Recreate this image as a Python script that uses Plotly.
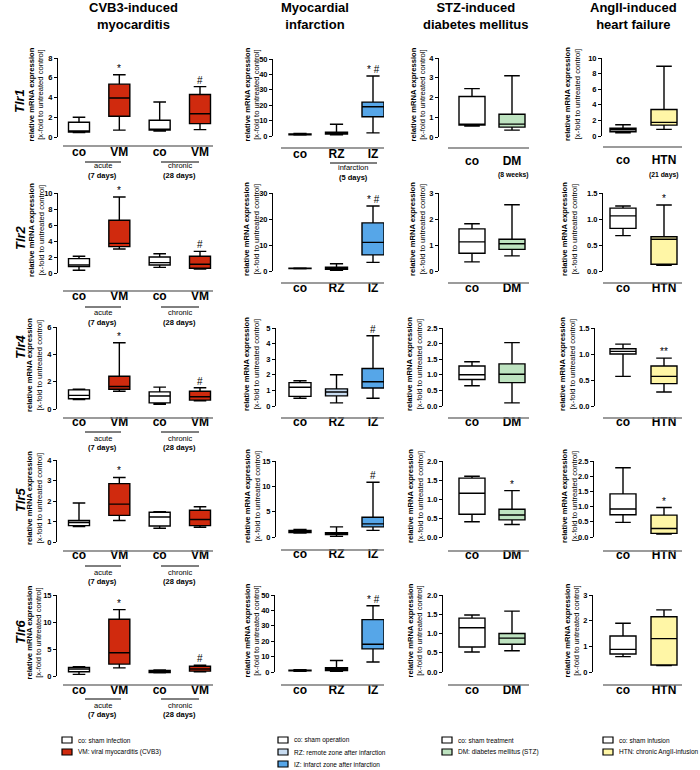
import plotly.graph_objects as go

W, H = 700, 770
FONT = "Liberation Sans, Arial, Helvetica, sans-serif"


def px(x):
    return x / W


def py(y):
    return 1 - y / H


# ---------------- data ----------------
genes = ["Tlr1", "Tlr2", "Tlr4", "Tlr5", "Tlr6"]
model_titles = ["CVB3-induced<br>myocarditis", "Myocardial<br>infarction",
                "STZ-induced<br>diabetes mellitus", "AngII-induced<br>heart failure"]

cvb3_cats = ["co", "VM", "co", "VM"]
mi_cats = ["co", "RZ", "IZ"]
stz_cats = ["co", "DM"]
ang_cats = ["co", "HTN"]

# box statistics per group: [lower whisker, Q1, median, Q3, upper whisker]
cvb3_tlr1 = [[0.45, 0.5, 0.6, 1.5, 2.0], [0.7, 2.1, 3.95, 5.35, 6.3], [0.6, 0.7, 0.8, 1.7, 3.55], [0.75, 1.35, 2.35, 4.3, 5.1]]
cvb3_tlr2 = [[0.35, 0.8, 1.0, 1.8, 2.1], [3.0, 3.3, 3.7, 6.6, 9.5], [0.7, 1.0, 1.3, 2.0, 2.4], [0.5, 0.6, 1.1, 2.1, 2.7]]
cvb3_tlr4 = [[0.7, 0.75, 1.0, 1.4, 1.45], [1.3, 1.45, 1.65, 2.4, 4.85], [0.35, 0.45, 0.95, 1.25, 1.6], [0.6, 0.65, 0.9, 1.3, 1.55]]
cvb3_tlr5 = [[0.75, 0.8, 0.95, 1.05, 1.9], [1.05, 1.3, 1.85, 2.85, 3.15], [0.67, 0.78, 1.22, 1.45, 1.48], [0.72, 0.8, 1.1, 1.55, 1.72]]
cvb3_tlr6 = [[0.3, 0.8, 1.3, 1.6, 1.7], [1.5, 2.2, 4.3, 10.5, 12.3], [0.6, 0.65, 0.9, 1.05, 1.1], [0.8, 0.9, 1.3, 1.8, 2.0]]

mi_tlr1 = [[0.6, 0.8, 1.0, 1.3, 1.6], [0.8, 1.3, 1.8, 2.5, 7.6], [2.0, 12.5, 19.0, 22.0, 39.0]]
mi_tlr2 = [[0.8, 0.9, 1.0, 1.1, 1.2], [0.3, 0.7, 1.1, 1.5, 2.8], [3.3, 6.2, 11.0, 18.5, 25.0]]
mi_tlr4 = [[0.5, 0.62, 1.2, 1.5, 1.62], [0.2, 0.65, 0.9, 1.1, 2.0], [0.5, 1.15, 1.55, 2.4, 4.5]]
mi_tlr5 = [[0.8, 0.9, 1.0, 1.3, 1.5], [0.1, 0.5, 0.7, 0.85, 2.0], [1.3, 2.0, 2.6, 3.9, 10.8]]
mi_tlr6 = [[0.5, 0.8, 1.0, 1.2, 1.5], [0.5, 1.0, 1.8, 2.8, 7.5], [6.5, 15.0, 18.0, 34.0, 43.0]]

stz_tlr1 = [[0.55, 0.6, 0.65, 2.05, 2.45], [0.35, 0.5, 0.65, 1.15, 3.1]]
stz_tlr2 = [[0.35, 0.68, 1.12, 1.62, 1.82], [0.58, 0.83, 1.05, 1.22, 2.55]]
stz_tlr4 = [[0.65, 0.85, 1.0, 1.28, 1.42], [0.1, 0.75, 1.02, 1.35, 2.03]]
stz_tlr5 = [[0.4, 0.6, 1.15, 1.55, 1.6], [0.33, 0.45, 0.58, 0.73, 1.22]]
stz_tlr6 = [[0.52, 0.65, 1.15, 1.4, 1.48], [0.55, 0.72, 0.88, 1.0, 1.58]]

ang_tlr1 = [[0.4, 0.55, 0.8, 1.0, 1.45], [0.85, 1.4, 1.75, 3.4, 8.95]]
ang_tlr2 = [[0.68, 0.82, 1.06, 1.21, 1.25], [0.11, 0.13, 0.61, 0.66, 1.27]]
ang_tlr4 = [[0.57, 1.0, 1.05, 1.1, 1.19], [0.27, 0.43, 0.57, 0.77, 0.92]]
ang_tlr5 = [[0.48, 0.73, 0.92, 1.42, 2.28], [0.1, 0.12, 0.28, 0.72, 0.97]]
ang_tlr6 = [[0.6, 0.7, 0.88, 1.4, 1.9], [0.25, 0.27, 1.3, 2.15, 2.42]]

# significance marks above each group
cvb3_sig = [["", "*", "", "#"], ["", "*", "", "#"], ["", "*", "", "#"], ["", "*", "", ""], ["", "*", "", "#"]]
mi_sig = [["", "", "* #"], ["", "", "* #"], ["", "", "#"], ["", "", "#"], ["", "", "* #"]]
stz_sig = [["", ""], ["", ""], ["", ""], ["", "*"], ["", ""]]
ang_sig = [["", ""], ["", "*"], ["", "**"], ["", "*"], ["", ""]]

# y-axis maxima and tick steps (rows = genes)
cvb3_ymax = [8, 10, 6, 4, 15]
cvb3_dtick = [2, 2, 2, 1, 5]
mi_ymax = [50, 30, 5, 15, 50]
mi_dtick = [10, 10, 1, 5, 10]
stz_ymax = [4, 3, 2.5, 2.0, 2.0]
stz_dtick = [1, 1, 0.5, 0.5, 0.5]
ang_ymax = [10, 1.5, 1.5, 2.5, 3]
ang_dtick = [2, 0.5, 0.5, 0.5, 1]

legend_cvb3 = ["co: sham infection", "VM: viral myocarditis (CVB3)"]
legend_mi = ["co: sham operation", "RZ: remote zone after infarction", "IZ: infarct zone after infarction"]
legend_stz = ["co: sham treatment", "DM: diabetes mellitus (STZ)"]
legend_ang = ["co: sham infusion", "HTN: chronic AngII-infusion"]

# ---------------- styling / layout ----------------
WHITE = "#FFFFFF"
RED = "#D02A0E"
LBLUE = "#C8DCF1"
BLUE = "#56A6E8"
GREEN = "#BEE3C0"
YELLOW = "#FFF6A6"

STATS = [[cvb3_tlr1, cvb3_tlr2, cvb3_tlr4, cvb3_tlr5, cvb3_tlr6],
         [mi_tlr1, mi_tlr2, mi_tlr4, mi_tlr5, mi_tlr6],
         [stz_tlr1, stz_tlr2, stz_tlr4, stz_tlr5, stz_tlr6],
         [ang_tlr1, ang_tlr2, ang_tlr4, ang_tlr5, ang_tlr6]]
SIGS = [cvb3_sig, mi_sig, stz_sig, ang_sig]
CATS = [cvb3_cats, mi_cats, stz_cats, ang_cats]
YMAX = [cvb3_ymax, mi_ymax, stz_ymax, ang_ymax]
DTICK = [cvb3_dtick, mi_dtick, stz_dtick, ang_dtick]
COLORS = [[WHITE, RED, WHITE, RED], [WHITE, LBLUE, BLUE], [WHITE, GREEN], [WHITE, YELLOW]]
LEGENDS = [legend_cvb3, legend_mi, legend_stz, legend_ang]

# pixel geometry
CENTERS = [[79, 120, 160, 200], [300, 336.5, 373], [472, 512], [623, 664]]
XSPAN = [(63, 213), (281, 384), (448, 529), (603, 682)]
BOXPX = [21, 22, 26, 26]
# per column, per row: (y-axis x px, top tick y px, zero y px, baseline y px)
GEOM = [
    [(57, 58, 137, 146), (57, 193, 273, 291), (56, 327, 409, 418), (56, 460, 542, 551), (56, 595, 676, 685)],
    [(272, 59, 136, 148), (272, 193, 271, 283), (275, 328, 406, 418), (275, 461, 537, 550), (274, 595, 672, 685)],
    [(438, 58, 137, 148), (438, 193, 271, 283), (442, 328, 406, 418), (442, 461, 537, 551), (442, 595, 672, 685)],
    [(601, 58, 136, 147), (602, 193, 271, 283), (594, 328, 406, 418), (593, 461, 537, 551), (592, 595, 672, 685)],
]
YTITLE_X = [[36, 36, 34, 34, 34], [252, 252, 252, 252, 252], [418, 418, 415, 415, 415], [572, 570, 568, 569, 572]]
LABEL_STANDOFF = [[-3, -4, -5, -5, -4], [-3, -4, -5, -5, -4], [4, -4, -5, -5, -4], [4, -4, -5, -5, -4]]

fig = go.Figure()
annotations = []
shapes = []
layout = {}

k = 0
for r in range(5):
    for c in range(4):
        k += 1
        xa = "x" if k == 1 else f"x{k}"
        ya = "y" if k == 1 else f"y{k}"
        xk = "xaxis" if k == 1 else f"xaxis{k}"
        yk = "yaxis" if k == 1 else f"yaxis{k}"
        cats = CATS[c]
        cen = CENTERS[c]
        n = len(cats)
        s = (cen[-1] - cen[0]) / (n - 1)
        x0, x1 = XSPAN[c]
        axx, ytop, yzero, base = GEOM[c][r]
        stats = STATS[c][r]
        for i in range(n):
            st = stats[i]
            fig.add_trace(go.Box(
                x=[i], lowerfence=[st[0]], q1=[st[1]], median=[st[2]], q3=[st[3]],
                upperfence=[st[4]], fillcolor=COLORS[c][i],
                line=dict(color="black", width=1.4), width=BOXPX[c] / s,
                whiskerwidth=0.6, boxpoints=False, xaxis=xa, yaxis=ya,
                showlegend=False, hoverinfo="skip"))
            sig = SIGS[c][r][i]
            if sig:
                annotations.append(dict(
                    x=i, y=st[4], xref=xa, yref=ya, text=sig, showarrow=False,
                    xanchor="center", yanchor="bottom", yshift=-1,
                    font=dict(size=10, family=FONT, color="black")))
        ymax = YMAX[c][r]
        dt = DTICK[c][r]
        fmt = ".1f" if (dt < 1) else "d"
        layout[xk] = dict(
            domain=[px(x0), px(x1)],
            range=[(x0 - cen[0]) / s, (x1 - cen[0]) / s],
            anchor="free", position=py(base), side="bottom",
            showline=False,
            tickvals=list(range(n)), ticktext=cats, ticks="",
            ticklabelstandoff=LABEL_STANDOFF[c][r],
            tickfont=dict(size=12, family=FONT, color="black", weight="bold"),
            showgrid=False, zeroline=False, fixedrange=True)
        layout[yk] = dict(
            domain=[py(yzero), py(ytop)], range=[0, ymax],
            anchor="free", position=px(axx),
            showline=True, linecolor="black", linewidth=1,
            ticks="outside", ticklen=3, tickwidth=1, tickcolor="black",
            tick0=0, dtick=dt, tickformat=fmt,
            tickfont=dict(size=7.5, family=FONT, color="black", weight="bold"),
            showgrid=False, zeroline=False, fixedrange=True)
        # gray baseline under the groups
        shapes.append(dict(type="line", xref="paper", yref="paper", x0=px(x0), x1=px(x1),
                           y0=py(base), y1=py(base), line=dict(color="#7a7a7a", width=1.5)))
        # y-axis title
        annotations.append(dict(
            x=px(YTITLE_X[c][r]), y=py((ytop + yzero) / 2 - 3), xref="paper", yref="paper",
            text="<b>relative mRNA expression</b><br>[x-fold to untreated control]",
            textangle=-90, showarrow=False, xanchor="center", yanchor="middle",
            font=dict(size=7.6, family=FONT, color="black")))

# column titles
TITLE_X = [133, 315, 475, 633]
for c in range(4):
    annotations.append(dict(x=px(TITLE_X[c]), y=py(16), xref="paper", yref="paper",
                            text="<b>" + model_titles[c] + "</b>", showarrow=False,
                            xanchor="center", yanchor="middle",
                            font=dict(size=13, family=FONT, color="black")))

# gene row labels
GENE_Y = [101, 238, 347, 500, 632]
for r in range(5):
    annotations.append(dict(x=px(20), y=py(GENE_Y[r]), xref="paper", yref="paper",
                            text="<b><i>" + genes[r] + "</i></b>", textangle=-90,
                            showarrow=False, xanchor="center", yanchor="middle",
                            font=dict(size=13, family=FONT, color="black")))


def add_line(xa, xb, y):
    shapes.append(dict(type="line", xref="paper", yref="paper", x0=px(xa), x1=px(xb),
                       y0=py(y), y1=py(y), line=dict(color="black", width=1)))


def add_text(x, y, text, size=7.5, bold=False):
    t = "<b>" + text + "</b>" if bold else text
    annotations.append(dict(x=px(x), y=py(y), xref="paper", yref="paper", text=t,
                            showarrow=False, xanchor="center", yanchor="middle",
                            font=dict(size=size, family=FONT, color="black")))


# acute / chronic sub-labels for CVB3 column
SUB_Y = [(162, 166, 176), (307, 312, 322), (432, 438, 447), (566, 572, 581), (699, 705, 714)]
for r in range(5):
    ly, ty, dy = SUB_Y[r]
    add_line(85, 121, ly)
    add_text(103, ty, "acute")
    add_text(103, dy, "(7 days)", bold=True)
    add_line(161, 199, ly)
    add_text(180, ty, "chronic")
    add_text(180, dy, "(28 days)", bold=True)

# infarction sub-label
add_line(330, 377, 163)
add_text(353, 168, "infarction")
add_text(353, 178, "(5 days)", bold=True)
add_text(513, 175, "(8 weeks)", size=6.8, bold=True)
add_text(663, 175, "(21 days)", size=6.8, bold=True)

# legends
LEG_BOX_X = [62, 278, 442, 603]
LEG_Y = [740, 752, 764]
for c in range(4):
    for j, txt in enumerate(LEGENDS[c]):
        y = LEG_Y[j]
        bx = LEG_BOX_X[c]
        shapes.append(dict(type="rect", xref="paper", yref="paper",
                           x0=px(bx), x1=px(bx + 10), y0=py(y + 3), y1=py(y - 3),
                           fillcolor=COLORS[c][j], line=dict(color="black", width=1.2)))
        annotations.append(dict(x=px(bx + 14), y=py(y), xref="paper", yref="paper", text=txt,
                                showarrow=False, xanchor="left", yanchor="middle",
                                font=dict(size=6.5, family=FONT, color="black")))

fig.update_layout(
    width=W, height=H,
    margin=dict(l=0, r=0, t=0, b=0, autoexpand=False),
    paper_bgcolor="white", plot_bgcolor="white",
    font=dict(family=FONT, color="black"),
    showlegend=False,
    annotations=annotations, shapes=shapes,
    **layout)

fig.write_html("out.html", config={"displayModeBar": False, "staticPlot": True},
               post_script="document.body.style.margin='0px';")
